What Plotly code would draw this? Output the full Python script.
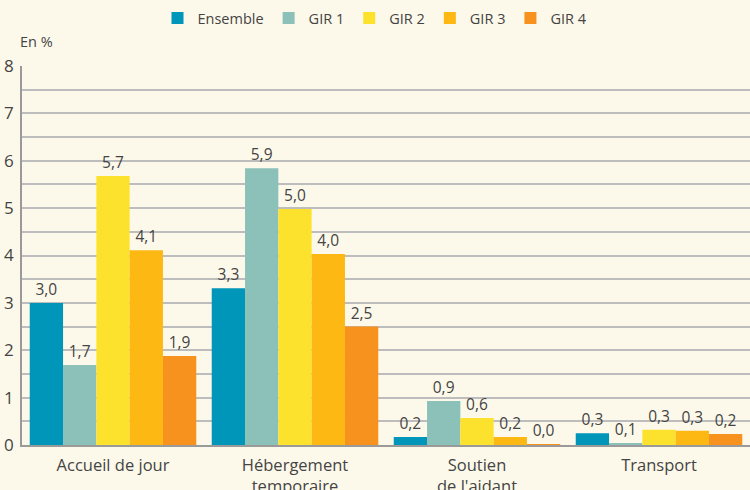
import plotly.graph_objects as go

categories = ["Accueil de jour", "Hébergement<br>temporaire", "Soutien<br>de l'aidant", "Transport"]
series_names = ["Ensemble", "GIR 1", "GIR 2", "GIR 3", "GIR 4"]
values = {
    "Ensemble": [3.0, 3.31, 0.17, 0.25],
    "GIR 1": [1.69, 5.84, 0.93, 0.04],
    "GIR 2": [5.68, 4.98, 0.57, 0.32],
    "GIR 3": [4.11, 4.03, 0.17, 0.30],
    "GIR 4": [1.88, 2.50, 0.02, 0.23],
}
labels = {
    "Ensemble": ["3,0", "3,3", "0,2", "0,3"],
    "GIR 1": ["1,7", "5,9", "0,9", "0,1"],
    "GIR 2": ["5,7", "5,0", "0,6", "0,3"],
    "GIR 3": ["4,1", "4,0", "0,2", "0,3"],
    "GIR 4": ["1,9", "2,5", "0,0", "0,2"],
}
colors = ["#0096b9", "#8bc1b9", "#fde22d", "#fdb813", "#f7921e"]

FONT = "Open Sans, Lato, sans-serif"
fig = go.Figure()
for name, col in zip(series_names, colors):
    fig.add_trace(go.Bar(
        x=categories, y=values[name], name=name,
        marker=dict(color=col, line=dict(width=0)),
        text=labels[name], textposition="outside",
        textfont=dict(size=15.5, color="#444444"),
        cliponaxis=False,
    ))

bg = "#fdf9ea"
fig.update_layout(
    width=750, height=490,
    paper_bgcolor=bg, plot_bgcolor=bg,
    barmode="group", bargap=0.085, bargroupgap=0,
    margin=dict(l=22, r=0, t=66, b=45, autoexpand=False),
    font=dict(family=FONT, size=14, color="#444444"),
    showlegend=True,
    legend=dict(orientation="h", x=0.5, xref="container", xanchor="center",
                y=1 - 18 / 490, yref="container", yanchor="middle",
                font=dict(size=14.5, color="#444444"),
                bgcolor="rgba(0,0,0,0)"),
)
fig.update_xaxes(showgrid=False, showline=True, linecolor="#9a9a9a", linewidth=1.5,
                 ticks="", tickfont=dict(size=16.5, color="#444444"), automargin=False,
                 ticklabelstandoff=4)
fig.update_yaxes(range=[0, 8], dtick=1, tick0=0, showgrid=True, gridcolor="#bdbdbd", gridwidth=1.5,
                 minor=dict(dtick=0.5, showgrid=True, gridcolor="#bdbdbd", gridwidth=1.5),
                 showline=True, linecolor="#9a9a9a", linewidth=1.5, ticks="",
                 zeroline=False, tickfont=dict(size=17, color="#444444"), ticklabelstandoff=3,
                 automargin=False)
fig.add_annotation(text="En %", xref="paper", yref="paper", x=-0.006, y=1.035,
                   xanchor="left", yanchor="bottom", showarrow=False,
                   font=dict(size=14.5, color="#444444"))
fig.write_html("out.html", config={"displayModeBar": False},
               post_script="document.body.style.margin='0';")
